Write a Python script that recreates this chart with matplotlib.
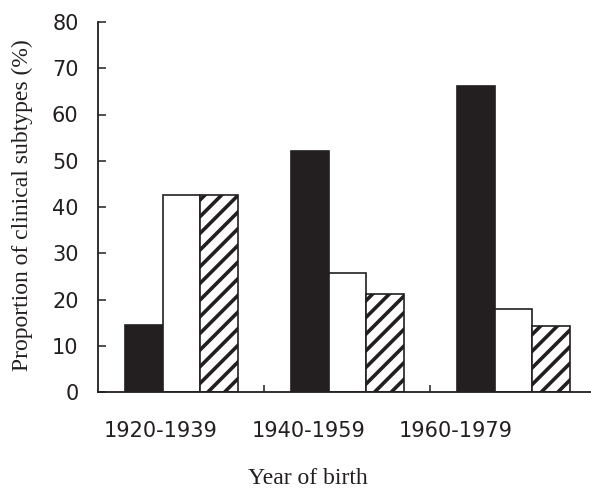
import matplotlib
matplotlib.use("Agg")
import matplotlib.pyplot as plt
import numpy as np

groups = ["1920-1939", "1940-1959", "1960-1979"]
black_vals = [14.4, 52.2, 66.2]
white_vals = [42.7, 25.8, 18.0]
hatch_vals = [42.7, 21.1, 14.2]
# label centres sit a bit left of the bar groups in the original
label_pos = [-0.126, 0.765, 1.652]
yticks = [0, 10, 20, 30, 40, 50, 60, 70, 80]

plt.rcParams['hatch.linewidth'] = 2.6

fig = plt.figure(figsize=(5.91, 4.92), dpi=100)
ax = fig.add_axes([98/591, 1-392/492, 1-98/591, (392-22)/492])

x = np.arange(len(groups))
w = 0.226
ax.bar(x - w, black_vals, w, color='#231f20', edgecolor='#231f20', lw=1.2)
ax.bar(x, white_vals, w, color='white', edgecolor='#231f20', lw=1.2)
ax.bar(x + w, hatch_vals, w, color='white', edgecolor='#231f20', lw=1.2, hatch='//')

ax.set_xlim(-0.502, 2.467)
ax.set_ylim(0, 80)
ax.spines['top'].set_visible(False)
ax.spines['right'].set_visible(False)
for s in ('left', 'bottom'):
    ax.spines[s].set_linewidth(1.3)
    ax.spines[s].set_color('#231f20')

ax.set_yticks(yticks)
ax.set_yticklabels([str(v) for v in yticks])
ax.tick_params(axis='y', direction='in', length=6, width=1.1, pad=14,
               labelsize=15, colors='#231f20')

ax.set_xticks(label_pos)
ax.set_xticklabels(groups)
ax.set_xticks([0.5, 1.5], minor=True)
ax.tick_params(axis='x', which='major', length=0, pad=21, labelsize=15,
               colors='#231f20')
ax.tick_params(axis='x', which='minor', direction='in', length=5, width=1.1,
               colors='#231f20')

fig.text(307.5/591, 1-478/492, "Year of birth", family='Liberation Serif',
         fontsize=17, ha='center', va='center', color='#231f20')
fig.text(22/591, 1-205/492, "Proportion of clinical subtypes (%)",
         family='Liberation Serif', fontsize=17, rotation=90,
         ha='center', va='center', color='#231f20')

fig.savefig("out.png", dpi=100)
